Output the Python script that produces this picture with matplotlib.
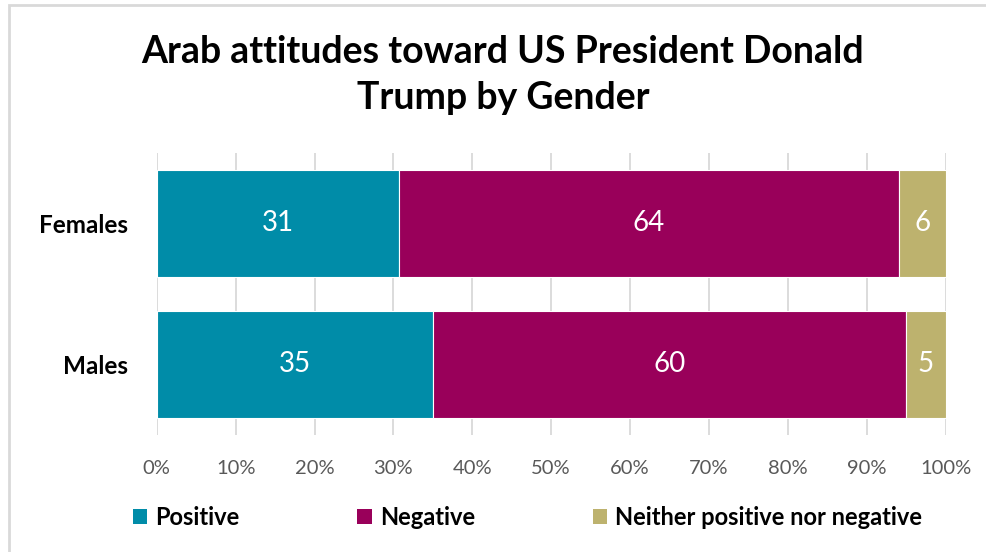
import numpy as np
import matplotlib.pyplot as plt
from matplotlib.patches import Rectangle, Patch

# data
groups = ['Females', 'Males']
positive = [31, 35]
negative = [64, 60]
neither = [6, 5]
series_names = ['Positive', 'Negative', 'Neither positive nor negative']
colors = ['#008CA8', '#99005A', '#BDB26E']

plt.rcParams['font.family'] = ['Lato', 'DejaVu Sans']

vals = np.array([positive, negative, neither], dtype=float)
shares = vals / vals.sum(axis=0) * 100  # 100% stacked

fig = plt.figure(figsize=(9.86, 5.52), dpi=100)
ax = fig.add_axes([0.159, 0.212, 0.8, 0.511])

# chart frame
fig.patches.append(Rectangle((9 / 986, -0.05), 1.2, 1 - 5 / 552 + 0.05,
                             transform=fig.transFigure, fill=False,
                             edgecolor='#d9d9d9', linewidth=2))

y = np.arange(len(groups))
left = np.zeros(len(groups))
for i in range(3):
    bars = ax.barh(y, shares[i], left=left, height=0.76, color=colors[i],
                   edgecolor='white', linewidth=0.8, label=series_names[i], zorder=3)
    for j, b in enumerate(bars):
        ax.text(left[j] + shares[i][j] / 2, y[j], f'{vals[i][j]:.0f}',
                ha='center', va='center', color='white', fontsize=20, zorder=4)
    left += shares[i]

ax.set_xlim(0, 100)
ax.set_ylim(1.5, -0.5)
ax.set_xticks(np.arange(0, 101, 10))
ax.set_xticklabels([f'{t}%' for t in range(0, 101, 10)])
ax.set_yticks(y)
ax.set_yticklabels(groups, fontweight='bold', fontsize=17.5)
ax.grid(axis='x', color='#d9d9d9', linewidth=1.3, zorder=0)
for s in ax.spines.values():
    s.set_visible(False)
ax.tick_params(axis='x', length=0, pad=18, labelsize=14.5, labelcolor='#595959')
ax.tick_params(axis='y', length=0, pad=21)

fig.text(0.51, 0.864, 'Arab attitudes toward US President Donald\nTrump by Gender',
         ha='center', va='center', fontsize=27, fontweight='bold',
         linespacing=1.4)

handles = [Patch(facecolor=c) for c in colors]
fig.legend(handles, series_names, loc='center', bbox_to_anchor=(0.535, 0.062),
           ncol=3, frameon=False, handlelength=0.6, handleheight=0.6,
           handletextpad=0.35, columnspacing=5.0,
           prop={'weight': 'bold', 'size': 17})

fig.savefig('out.png', dpi=100)
